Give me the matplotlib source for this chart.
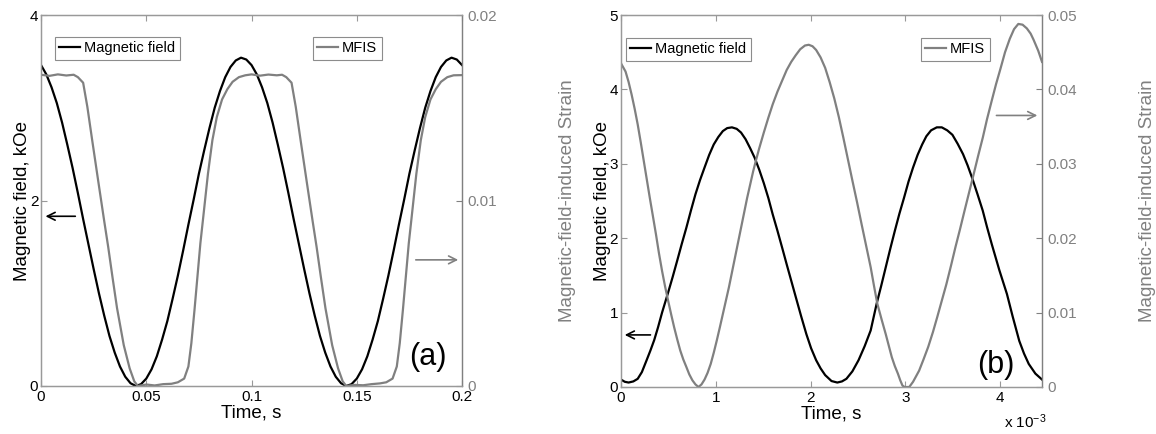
import numpy as np
import matplotlib
matplotlib.use('Agg')
import matplotlib.pyplot as plt

plt.rcParams['font.family'] = ['Liberation Sans', 'DejaVu Sans']
plt.rcParams['mathtext.default'] = 'regular'

# ---- panel (a): 10 Hz, time in s ----
# magnetic field, kOe, sampled every 2.5 ms from 0 to 0.2 s
field_a = [3.46, 3.36, 3.22, 3.05, 2.84, 2.60, 2.35, 2.08, 1.80, 1.53,
           1.26, 1.00, 0.76, 0.54, 0.36, 0.21, 0.10, 0.03, 0.00, 0.02,
           0.08, 0.18, 0.32, 0.50, 0.70, 0.94, 1.19, 1.46, 1.74, 2.01,
           2.29, 2.54, 2.78, 3.00, 3.18, 3.33, 3.44, 3.51, 3.54, 3.52,
           3.46, 3.36, 3.22, 3.05, 2.84, 2.60, 2.35, 2.08, 1.80, 1.53,
           1.26, 1.00, 0.76, 0.54, 0.36, 0.21, 0.10, 0.03, 0.00, 0.02,
           0.08, 0.18, 0.32, 0.50, 0.70, 0.94, 1.19, 1.46, 1.74, 2.01,
           2.29, 2.54, 2.78, 3.00, 3.18, 3.33, 3.44, 3.51, 3.54, 3.52,
           3.46]
time_a = np.linspace(0, 0.2, len(field_a))

mfis_time_a = [0.000, 0.004, 0.008, 0.012, 0.0155, 0.0175, 0.020, 0.022, 0.0243, 0.0271,
               0.030, 0.0319, 0.0339, 0.0361, 0.0393, 0.0421, 0.0443, 0.046, 0.050, 0.054,
               0.058, 0.062, 0.065, 0.068, 0.070, 0.0714, 0.0729, 0.0743, 0.0757, 0.0771,
               0.0793, 0.0814, 0.0835, 0.086, 0.0885, 0.091, 0.094, 0.097, 0.100, 0.104,
               0.108, 0.112, 0.1145,
               0.1165, 0.119, 0.121, 0.1233, 0.1261, 0.129, 0.1309, 0.1329, 0.1351, 0.1383,
               0.1411, 0.1433, 0.145, 0.149, 0.153, 0.157, 0.161, 0.164, 0.167, 0.169,
               0.1704, 0.1719, 0.1733, 0.1747, 0.1761, 0.1783, 0.1804, 0.1825, 0.185, 0.1875,
               0.19, 0.193, 0.196, 0.2]
mfis_a = [0.01678, 0.01672, 0.01680, 0.01674, 0.01678, 0.01665, 0.01635, 0.01505, 0.01325, 0.0111,
          0.0089, 0.0075, 0.0059, 0.0042, 0.0022, 0.00095, 0.00025, 0.0, 0.00008, 0.00003,
          0.0001, 0.00012, 0.0002, 0.0004, 0.00105, 0.0023, 0.0041, 0.0059, 0.0077, 0.00915,
          0.01145, 0.01325, 0.0145, 0.01545, 0.0160, 0.0164, 0.01665, 0.01675, 0.01680, 0.01673,
          0.01679, 0.01675, 0.01678,
          0.01665, 0.01635, 0.01505, 0.01325, 0.0111, 0.0089, 0.0075, 0.0059, 0.0042, 0.0022,
          0.00095, 0.00025, 0.0, 0.00006, 0.00004, 0.0001, 0.00014, 0.0002, 0.0004, 0.00105,
          0.0023, 0.0041, 0.0059, 0.0077, 0.00915, 0.01145, 0.01325, 0.0145, 0.01545, 0.0160,
          0.0164, 0.01665, 0.01675, 0.01676]

# ---- panel (b): time in units of 1e-3 s ----
field_time_b = [0, 0.04, 0.08, 0.13, 0.176, 0.22, 0.27, 0.31, 0.35, 0.39,
                0.433, 0.497, 0.545, 0.593, 0.64, 0.689, 0.737, 0.785, 0.833, 0.881,
                0.93, 0.978, 1.026, 1.074, 1.12, 1.17, 1.22, 1.266, 1.314, 1.362,
                1.41, 1.458, 1.506, 1.554, 1.60, 1.65, 1.70, 1.747, 1.795, 1.843,
                1.9, 1.955, 2.005, 2.058, 2.105, 2.153, 2.22, 2.281, 2.33, 2.377,
                2.44, 2.505, 2.57, 2.633, 2.696, 2.744, 2.792, 2.84, 2.888, 2.936,
                2.984, 3.032, 3.08, 3.128, 3.176, 3.22, 3.27, 3.33, 3.383, 3.44,
                3.495, 3.55, 3.607, 3.655, 3.703, 3.76, 3.815, 3.86, 3.91, 3.99,
                4.07, 4.13, 4.2, 4.25, 4.3, 4.37, 4.44]
field_b = [0.10, 0.07, 0.06, 0.075, 0.11, 0.20, 0.36, 0.49, 0.63, 0.80,
           1.00, 1.27, 1.48, 1.70, 1.92, 2.14, 2.37, 2.59, 2.78, 2.95,
           3.12, 3.26, 3.36, 3.44, 3.48, 3.49, 3.47, 3.42, 3.33, 3.21,
           3.08, 2.92, 2.74, 2.54, 2.32, 2.10, 1.87, 1.65, 1.43, 1.21,
           0.95, 0.71, 0.52, 0.36, 0.25, 0.16, 0.08, 0.06, 0.075, 0.11,
           0.21, 0.36, 0.55, 0.76, 1.12, 1.36, 1.61, 1.86, 2.10, 2.33,
           2.54, 2.76, 2.95, 3.12, 3.26, 3.37, 3.45, 3.49, 3.49, 3.45,
           3.39, 3.27, 3.13, 2.98, 2.81, 2.59, 2.37, 2.15, 1.92, 1.57,
           1.25, 0.95, 0.62, 0.45, 0.31, 0.18, 0.10]

mfis_time_b = [0, 0.048, 0.08, 0.112, 0.144, 0.176, 0.208, 0.24, 0.272, 0.304,
               0.336, 0.369, 0.40, 0.433, 0.465, 0.497, 0.53, 0.561, 0.593, 0.625,
               0.657, 0.689, 0.72, 0.753, 0.785, 0.817, 0.849, 0.881, 0.913, 0.946,
               0.978, 1.01, 1.042, 1.074, 1.106, 1.138, 1.17, 1.202, 1.234, 1.266,
               1.298, 1.33, 1.362, 1.394, 1.426, 1.458, 1.506, 1.554, 1.60, 1.65,
               1.70, 1.747, 1.795, 1.843, 1.89, 1.94, 1.98, 2.02, 2.058, 2.105,
               2.153, 2.20, 2.249, 2.297, 2.345, 2.393, 2.441, 2.49, 2.537, 2.585,
               2.633, 2.668, 2.703, 2.75, 2.792, 2.825, 2.856, 2.888, 2.92, 2.945,
               2.968, 2.99, 3.04, 3.08, 3.11, 3.144, 3.19, 3.24, 3.29, 3.335,
               3.383, 3.431, 3.48, 3.527, 3.575, 3.623, 3.67, 3.719, 3.767, 3.815,
               3.86, 3.91, 3.955, 4.0, 4.05, 4.1, 4.145, 4.19, 4.235, 4.28,
               4.32, 4.35, 4.40, 4.44]
mfis_b = [0.0435, 0.0424, 0.0410, 0.0393, 0.0374, 0.0353, 0.0329, 0.0304, 0.0279, 0.0254,
          0.0230, 0.0205, 0.0180, 0.0156, 0.0135, 0.0116, 0.0097, 0.0080, 0.0064, 0.0049,
          0.0037, 0.0027, 0.0017, 0.0009, 0.00035, 0.0, 0.00035, 0.0010, 0.0019, 0.0031,
          0.0046, 0.00625, 0.0080, 0.0098, 0.0116, 0.0134, 0.0154, 0.0174, 0.0194, 0.0214,
          0.0234, 0.0254, 0.0272, 0.0290, 0.0306, 0.0321, 0.0342, 0.0362, 0.0380, 0.0397,
          0.0412, 0.0426, 0.0437, 0.0446, 0.0454, 0.0459, 0.0460, 0.0458, 0.0453, 0.0443,
          0.0429, 0.0410, 0.0388, 0.0363, 0.0335, 0.0306, 0.0277, 0.0248, 0.0219, 0.0190,
          0.0161, 0.0136, 0.0112, 0.0090, 0.0071, 0.0055, 0.0040, 0.0028, 0.0018, 0.0009,
          0.0002, 0.0, 0.0, 0.0007, 0.0014, 0.0022, 0.0037, 0.0054, 0.0074, 0.0094,
          0.0116, 0.0138, 0.0163, 0.0188, 0.0212, 0.0237, 0.0261, 0.0286, 0.0311, 0.0335,
          0.0360, 0.0385, 0.0407, 0.0427, 0.0450, 0.0468, 0.0481, 0.0488, 0.0487, 0.0482,
          0.0475, 0.0467, 0.0452, 0.0437]

GRAY = '0.5'
FRAME = '0.6'
TICK_FS = 11
LABEL_FS = 13.5


def panel(rect, t1, y1, t2, y2, xlim, xticks, xticklabels, ylim1, yticks1,
          ylim2, yticks2, yticklabels2, tag, tag_xy, larrow, rarrow, leg_pos):
    ax = fig.add_axes(rect)
    ax2 = ax.twinx()
    l1, = ax.plot(t1, y1, color='black', lw=1.6)
    l2, = ax2.plot(t2, y2, color=GRAY, lw=1.6)

    ax.set_xlim(*xlim)
    ax.set_ylim(*ylim1)
    ax2.set_ylim(*ylim2)
    ax.set_xticks(xticks)
    ax.set_xticklabels(xticklabels)
    ax.set_yticks(yticks1)
    ax.set_yticklabels([('%g' % v) for v in yticks1])
    ax2.set_yticks(yticks2)
    ax2.set_yticklabels(yticklabels2)

    for a in (ax, ax2):
        for s in a.spines.values():
            s.set_color(FRAME)
            s.set_linewidth(0.9)
    ax2.spines['right'].set_color(GRAY)

    ax.tick_params(axis='x', direction='in', top=True, length=4, color=FRAME,
                   labelsize=TICK_FS, pad=3)
    ax.tick_params(axis='y', direction='in', length=4, color=FRAME,
                   labelsize=TICK_FS, pad=2)
    ax2.tick_params(axis='y', direction='in', length=4, color=GRAY,
                    labelcolor=GRAY, labelsize=TICK_FS, pad=4)

    ax.set_xlabel('Time, s', fontsize=LABEL_FS, labelpad=0)
    ax.set_ylabel('Magnetic field, kOe', fontsize=LABEL_FS)
    ax2.set_ylabel('Magnetic-field-induced Strain', fontsize=LABEL_FS, color=GRAY)
    ax.yaxis.set_label_coords(-0.023, 0.5)
    ax2.yaxis.set_label_coords(1.231, 0.5)

    ax.text(tag_xy[0], tag_xy[1], tag, transform=ax.transAxes, fontsize=22,
            ha='center', va='center')

    # arrows pointing to the matching axis
    ax.annotate('', xy=larrow[1], xytext=larrow[0], xycoords='data',
                arrowprops=dict(arrowstyle='->', color='black', lw=1.2,
                                mutation_scale=14))
    ax2.annotate('', xy=rarrow[1], xytext=rarrow[0], xycoords='data',
                 arrowprops=dict(arrowstyle='->', color=GRAY, lw=1.2,
                                 mutation_scale=14))

    leg_kw = dict(loc='upper left', fontsize=10.5, frameon=True, fancybox=False,
                  edgecolor='0.55', framealpha=1, borderpad=0.3,
                  handlelength=1.4, handletextpad=0.3, borderaxespad=0)
    lg1 = ax2.legend([l1], ['Magnetic field'], bbox_to_anchor=leg_pos[0], **leg_kw)
    lg1.get_frame().set_linewidth(0.8)
    ax2.add_artist(lg1)
    lg2 = ax2.legend([l2], ['MFIS'], bbox_to_anchor=leg_pos[1], **leg_kw)
    lg2.get_frame().set_linewidth(0.8)
    return ax, ax2


fig = plt.figure(figsize=(11.56, 4.34), dpi=100)

panel([0.0355, 0.1106, 0.3642, 0.8548],
      time_a, field_a, mfis_time_a, mfis_a,
      (0, 0.2), [0, 0.05, 0.1, 0.15, 0.2], ['0', '0.05', '0.1', '0.15', '0.2'],
      (0, 4), [0, 2, 4],
      (0, 0.02), [0, 0.01, 0.02], ['0', '0.01', '0.02'],
      '(a)', (0.918, 0.078),
      ((0.0176, 1.83), (0.0008, 1.83)),
      ((0.1767, 0.0068), (0.1995, 0.0068)),
      ((0.033, 0.9407), (0.646, 0.9407)))

ax_b, ax2_b = panel([0.5372, 0.1083, 0.3642, 0.8571],
                    field_time_b, field_b, mfis_time_b, mfis_b,
                    (0, 4.44), [0, 1, 2, 3, 4], ['0', '1', '2', '3', '4'],
                    (0, 5), [0, 1, 2, 3, 4, 5],
                    (0, 0.05), [0, 0.01, 0.02, 0.03, 0.04, 0.05],
                    ['0', '0.01', '0.02', '0.03', '0.04', '0.05'],
                    '(b)', (0.891, 0.059),
                    ((0.34, 0.70), (0.01, 0.70)),
                    ((3.93, 0.0365), (4.42, 0.0365)),
                    ((0.012, 0.938), (0.7126, 0.938)))
ax_b.text(1.012, -0.094, 'x 10$^{-3}$', transform=ax_b.transAxes, fontsize=11,
          ha='right', va='center')

fig.savefig('out.png', dpi=100)
